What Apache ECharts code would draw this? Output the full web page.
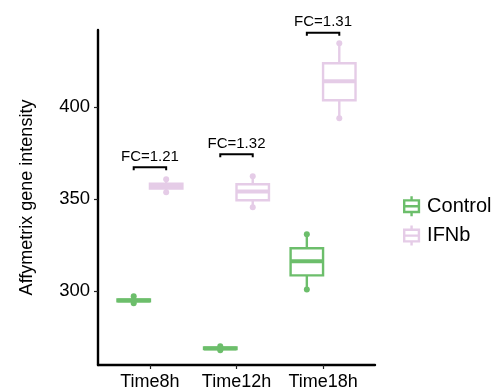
<!DOCTYPE html>
<html>
<head>
<meta charset="utf-8">
<script src="https://cdn.jsdelivr.net/npm/echarts@6/dist/echarts.min.js"></script>
<style>html,body{margin:0;padding:0;background:#fff}#c{width:503px;height:392px}</style>
</head>
<body>
<div id="c"></div>
<script>
// ---- data ----
const categories = ['Time8h', 'Time12h', 'Time18h'];
const groups = ['Control', 'IFNb'];
// [min, Q1, median, Q3, max]
const controlBox = [
  [293.5, 294.6, 295.1, 295.6, 297.3],
  [268.0, 268.6, 269.0, 269.5, 270.2],
  [301.0, 308.7, 316.3, 323.4, 331.0]
];
const ifnbBox = [
  [353.8, 355.8, 357.2, 358.5, 360.9],
  [345.7, 349.5, 354.3, 358.2, 362.5],
  [394.0, 403.8, 414.1, 423.9, 434.8]
];
const controlPoints = [
  [293.5, 295.1, 297.3],
  [268.0, 269.0, 270.2],
  [301.0, 316.3, 331.0]
];
const ifnbPoints = [
  [353.8, 357.2, 360.9],
  [345.7, 354.3, 362.5],
  [394.0, 414.1, 434.8]
];
const fcLabels = ['FC=1.21', 'FC=1.32', 'FC=1.31'];
const fcHeights = [367.5, 374.5, 440.5];
const yTicks = [300, 350, 400];

// ---- styles ----
const colors = { Control: '#6cbe6b', IFNb: '#e5cce7' };
const FONT = 'Liberation Sans, Arial, Helvetica, sans-serif';
const dodge = 0.1875;   // half of the dodge width (0.75 / 2 / 2)
const halfBox = 0.1875;

function boxRenderer(offset, color) {
  return function (params, api) {
    const x = api.value(0) + offset;
    const mn = api.value(1), q1 = api.value(2), md = api.value(3), q3 = api.value(4), mx = api.value(5);
    const tl = api.coord([x - halfBox, q3]);
    const br = api.coord([x + halfBox, q1]);
    const mL = api.coord([x - halfBox, md]);
    const mR = api.coord([x + halfBox, md]);
    const wTop0 = api.coord([x, q3]), wTop1 = api.coord([x, mx]);
    const wBot0 = api.coord([x, q1]), wBot1 = api.coord([x, mn]);
    const st = { stroke: color, lineWidth: 2.4, fill: null };
    return {
      type: 'group',
      children: [
        { type: 'line', shape: { x1: wTop0[0], y1: wTop0[1], x2: wTop1[0], y2: wTop1[1] }, style: st },
        { type: 'line', shape: { x1: wBot0[0], y1: wBot0[1], x2: wBot1[0], y2: wBot1[1] }, style: st },
        { type: 'rect', shape: { x: tl[0], y: tl[1], width: br[0] - tl[0], height: br[1] - tl[1] }, style: { stroke: color, lineWidth: 2.4, fill: '#fff' } },
        { type: 'line', shape: { x1: mL[0], y1: mL[1], x2: mR[0], y2: mR[1] }, style: { stroke: color, lineWidth: 4 } }
      ]
    };
  };
}
function pointRenderer(offset, color) {
  return function (params, api) {
    const p = api.coord([api.value(0) + offset, api.value(1)]);
    return { type: 'circle', shape: { cx: p[0], cy: p[1], r: 3 }, style: { fill: color } };
  };
}
function boxData(arr) { return arr.map((b, i) => [i + 1].concat(b)); }
function pointData(arr) {
  const out = [];
  arr.forEach((vals, i) => vals.forEach(v => out.push([i + 1, v])));
  return out;
}

const iconPath = 'path://M7.5,0L7.5,4M0.5,4L14.5,4L14.5,15L0.5,15ZM0.5,9.5L14.5,9.5M7.5,15L7.5,19';

const option = {
  animation: false,
  backgroundColor: '#fff',
  grid: { left: 98, right: 128, top: 30, bottom: 27, containLabel: false },
  xAxis: {
    type: 'value', min: 0.4, max: 3.6,
    splitLine: { show: false },
    axisLine: { show: true, onZero: false, lineStyle: { color: '#000', width: 2.4 } },
    axisTick: { show: true, length: 4, customValues: [1, 2, 3], lineStyle: { color: '#222', width: 1.2 } },
    axisLabel: {
      customValues: [1, 2, 3],
      formatter: v => categories[Math.round(v) - 1] || '',
      color: '#000', fontSize: 18, fontFamily: FONT, margin: 8
    }
  },
  yAxis: {
    type: 'value', min: 260, max: 442,
    name: 'Affymetrix gene intensity', nameLocation: 'middle', nameGap: 62, nameRotate: 90,
    nameTextStyle: { color: '#000', fontSize: 18, fontFamily: FONT },
    splitLine: { show: false },
    axisLine: { show: true, onZero: false, lineStyle: { color: '#000', width: 2.4 } },
    axisTick: { show: true, length: 4, customValues: yTicks, lineStyle: { color: '#222', width: 1.2 } },
    axisLabel: { customValues: yTicks, color: '#000', fontSize: 18.5, fontFamily: FONT, margin: 8 }
  },
  legend: {
    orient: 'vertical', left: 398, top: 190, itemGap: 7,
    itemWidth: 15, itemHeight: 20,
    textStyle: { color: '#000', fontSize: 20, fontFamily: FONT, padding: [0, 0, 0, 3] },
    data: groups.map(g => ({
      name: g, icon: iconPath,
      itemStyle: { color: 'rgba(0,0,0,0)', borderColor: colors[g], borderWidth: 2.4 }
    }))
  },
  series: [
    { name: 'Control', type: 'custom', renderItem: pointRenderer(-dodge, colors.Control), data: pointData(controlPoints), z: 1 },
    { name: 'IFNb', type: 'custom', renderItem: pointRenderer(dodge, colors.IFNb), data: pointData(ifnbPoints), z: 1 },
    { name: 'Control', type: 'custom', itemStyle: { color: colors.Control }, renderItem: boxRenderer(-dodge, colors.Control), data: boxData(controlBox), z: 2 },
    { name: 'IFNb', type: 'custom', itemStyle: { color: colors.IFNb }, renderItem: boxRenderer(dodge, colors.IFNb), data: boxData(ifnbBox), z: 2 },
    {
      type: 'custom', z: 4,
      data: fcHeights.map((h, i) => [i + 1, h]),
      renderItem: function (params, api) {
        const x = api.value(0), h = api.value(1);
        const a = api.coord([x - dodge, h]);
        const b = api.coord([x + dodge, h]);
        const drop = 3;
        return {
          type: 'group',
          children: [
            { type: 'polyline', shape: { points: [[a[0], a[1] + drop], a, b, [b[0], b[1] + drop]] }, style: { stroke: '#000', lineWidth: 2, fill: null } },
            { type: 'text', x: (a[0] + b[0]) / 2, y: a[1] - 3, style: { text: fcLabels[params.dataIndex], fill: '#000', font: '15px ' + FONT, align: 'center', verticalAlign: 'bottom' } }
          ]
        };
      }
    }
  ]
};
const chart = echarts.init(document.getElementById('c'), null, { renderer: 'canvas' });
chart.setOption(option);
</script>
</body>
</html>
